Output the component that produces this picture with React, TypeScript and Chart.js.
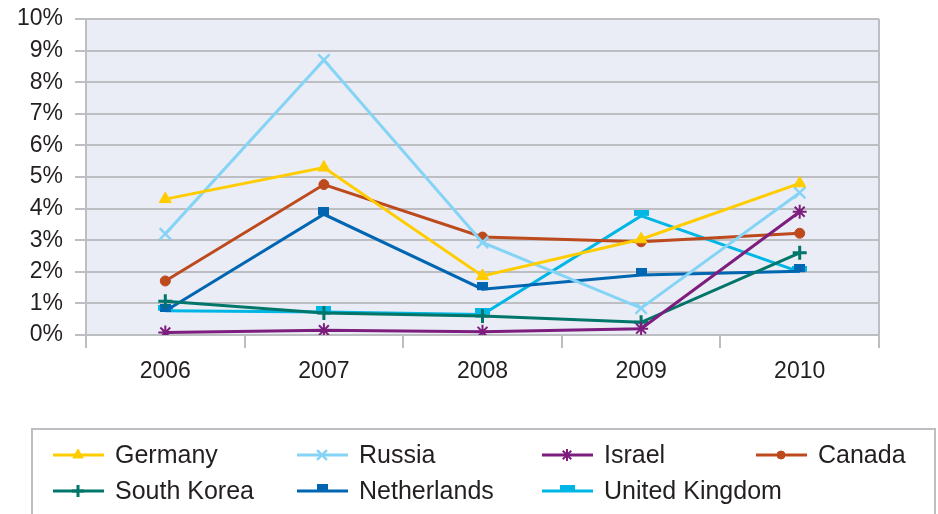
import { useEffect, useRef } from "react";
import { Chart, registerables } from "chart.js";
import { drawPoint } from "chart.js/helpers";

Chart.register(...registerables);

// Annual rates per country, in percent
const years = ["2006", "2007", "2008", "2009", "2010"];
const germany = [4.3, 5.3, 1.87, 3.03, 4.8];
const russia = [3.2, 8.7, 2.93, 0.85, 4.5];
const israel = [0.08, 0.15, 0.1, 0.2, 3.9];
const canada = [1.71, 4.76, 3.1, 2.95, 3.22];
const southKorea = [1.07, 0.7, 0.6, 0.4, 2.6];
const netherlands = [0.76, 3.82, 1.45, 1.9, 2.02];
const unitedKingdom = [0.77, 0.73, 0.65, 3.77, 2.0];

const yMin = 0;
const yMax = 10;
const yStep = 1;

const GRID = "#BDBEC1";
const TEXT = "#231F20";
const PLOT_BG = "#EAEDF6";
const FONT = "'Liberation Sans', Arial, Helvetica, sans-serif";

// Small bar-shaped marker drawn into an offscreen canvas, sitting slightly above the line
function barMarker(color: string, w: number, h: number, boxH: number): HTMLCanvasElement {
  const c = document.createElement("canvas");
  c.width = w;
  c.height = boxH;
  const g = c.getContext("2d")!;
  g.fillStyle = color;
  g.fillRect(0, 0, w, h);
  return c;
}

export default function App() {
  const canvasRef = useRef<HTMLCanvasElement | null>(null);

  useEffect(() => {
    const canvas = canvasRef.current;
    if (!canvas) return;

    const nlMarker = barMarker("#0066B2", 11, 8, 14);
    const ukMarker = barMarker("#00B6E4", 15, 6, 12);

    const series = [
      { label: "Germany", data: germany, color: "#FFCC00", style: "triangle", radius: 7, bw: 1 },
      { label: "Russia", data: russia, color: "#86D4F5", style: "crossRot", radius: 8, bw: 2.5 },
      { label: "Israel", data: israel, color: "#7D1D7E", style: "star", radius: 7, bw: 2 },
      { label: "Canada", data: canada, color: "#BD4A1C", style: "circle", radius: 5, bw: 1 },
      { label: "South Korea", data: southKorea, color: "#00766A", style: "cross", radius: 7, bw: 3 },
      { label: "Netherlands", data: netherlands, color: "#0066B2", style: nlMarker as any, radius: 6, bw: 1 },
      { label: "United Kingdom", data: unitedKingdom, color: "#00B6E4", style: ukMarker as any, radius: 6, bw: 1 },
    ];

    // Plot background and right frame line
    const plotFrame = {
      id: "plotFrame",
      beforeDatasetsDraw(chart: any) {
        const { ctx, chartArea } = chart;
        ctx.save();
        ctx.strokeStyle = GRID;
        ctx.lineWidth = 2;
        ctx.beginPath();
        ctx.moveTo(chartArea.right, chartArea.top);
        ctx.lineTo(chartArea.right, chartArea.bottom);
        ctx.stroke();
        ctx.restore();
      },
      beforeDraw(chart: any) {
        const { ctx, chartArea } = chart;
        ctx.save();
        ctx.fillStyle = PLOT_BG;
        ctx.fillRect(chartArea.left, chartArea.top, chartArea.right - chartArea.left, chartArea.bottom - chartArea.top);
        ctx.restore();
      },
    };

    // Boxed legend laid out as a grid below the axis
    const gridLegend = {
      id: "gridLegend",
      afterDraw(chart: any) {
        const { ctx } = chart;
        ctx.save();
        ctx.strokeStyle = GRID;
        ctx.lineWidth = 2;
        ctx.strokeRect(32, 429, 903, 100);
        const cols = [53, 297, 542, 756];
        const rows = [455, 491];
        chart.data.datasets.forEach((ds: any, i: number) => {
          const x = cols[i % 4];
          const y = rows[Math.floor(i / 4)];
          ctx.strokeStyle = ds.borderColor;
          ctx.fillStyle = ds.borderColor;
          ctx.lineWidth = 3;
          ctx.beginPath();
          ctx.moveTo(x, y);
          ctx.lineTo(x + 51, y);
          ctx.stroke();
          ctx.lineWidth = ds.pointBorderWidth;
          drawPoint(
            ctx,
            { pointStyle: ds.pointStyle, radius: ds.pointRadius - 1, rotation: 0, borderWidth: ds.pointBorderWidth } as any,
            x + 25,
            y
          );
          ctx.fillStyle = TEXT;
          ctx.font = `25px ${FONT}`;
          ctx.textBaseline = "middle";
          ctx.textAlign = "left";
          ctx.fillText(ds.label, x + 62, y + 1);
        });
        ctx.restore();
      },
    };

    const chart = new Chart(canvas, {
      type: "line",
      data: {
        labels: years,
        datasets: series.map((s) => ({
          label: s.label,
          data: s.data,
          borderColor: s.color,
          backgroundColor: s.color,
          pointBackgroundColor: s.color,
          pointBorderColor: s.color,
          borderWidth: 3,
          pointStyle: s.style,
          pointRadius: s.radius,
          pointBorderWidth: s.bw,
          tension: 0,
          fill: false,
        })),
      },
      options: {
        responsive: true,
        maintainAspectRatio: false,
        animation: false,
        layout: { padding: { left: 0, top: 19, right: 59, bottom: 0 } },
        plugins: {
          legend: { display: false },
          tooltip: { enabled: false },
        },
        scales: {
          x: {
            offset: true,
            afterFit(scale: any) {
              scale.height = 179;
              scale.paddingLeft = 0;
              scale.paddingRight = 0;
            },
            grid: {
              offset: true,
              drawOnChartArea: true,
              color: (c: any) => (c.index === years.length ? GRID : "rgba(0,0,0,0)"),
              tickColor: GRID,
              lineWidth: 2,
              tickLength: 13,
            },
            border: { display: true, color: GRID, width: 2 },
            ticks: {
              color: TEXT,
              font: { family: FONT, size: 23 },
              padding: 10,
              maxRotation: 0,
            },
          },
          y: {
            min: yMin,
            max: yMax,
            afterFit(scale: any) {
              scale.width = 86;
              scale.paddingTop = 0;
              scale.paddingBottom = 0;
            },
            grid: {
              color: GRID,
              lineWidth: 2,
              tickLength: 11,
              tickColor: GRID,
            },
            border: { display: true, color: GRID, width: 2 },
            ticks: {
              stepSize: yStep,
              color: TEXT,
              font: { family: FONT, size: 23 },
              padding: 12,
              callback: (v: any) => `${v}%`,
            },
          },
        },
      },
      plugins: [plotFrame, gridLegend],
    });

    return () => chart.destroy();
  }, []);

  return (
    <div style={{ position: "absolute", left: 0, top: 0, width: 938, height: 514, background: "#fff" }}>
      <canvas ref={canvasRef} />
    </div>
  );
}
